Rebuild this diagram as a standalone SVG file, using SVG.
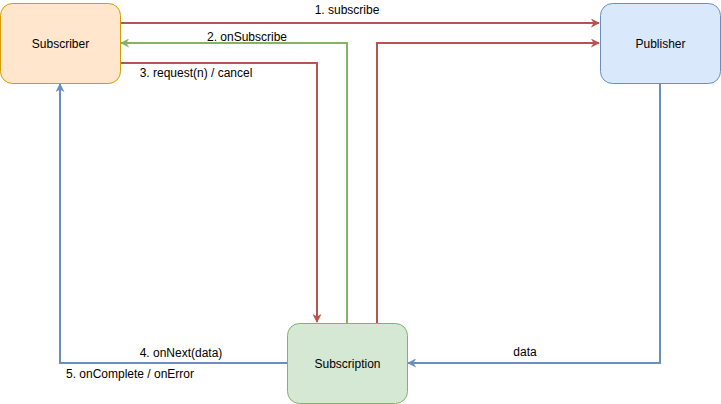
<svg xmlns="http://www.w3.org/2000/svg" width="721" height="404" viewBox="0 0 721 404">
<style>
.node text{font-family:"Liberation Sans",Arial,sans-serif;font-size:12px;fill:#000;text-anchor:middle;dominant-baseline:central}
.lbl{font-family:"Liberation Sans",Arial,sans-serif;font-size:12px;fill:#000;text-anchor:middle}
.e{fill:none;stroke-width:2}
.red{stroke:#b85450}.green{stroke:#82b366}.blue{stroke:#6c8ebf}
</style>
<defs>
<marker id="ar" viewBox="0 0 10 10" refX="9" refY="5" markerWidth="9" markerHeight="9" markerUnits="userSpaceOnUse" orient="auto"><path d="M0,0 L10,5 L0,10 L3,5 Z" fill="#b85450"/></marker>
<marker id="ag" viewBox="0 0 10 10" refX="9" refY="5" markerWidth="9" markerHeight="9" orient="auto" markerUnits="userSpaceOnUse"><path d="M0,0 L10,5 L0,10 L3,5 Z" fill="#82b366"/></marker>
<marker id="ab" viewBox="0 0 10 10" refX="9" refY="5" markerWidth="9" markerHeight="9" orient="auto" markerUnits="userSpaceOnUse"><path d="M0,0 L10,5 L0,10 L3,5 Z" fill="#6c8ebf"/></marker>
</defs>
<g id="connectors">
<path class="e red" d="M120,23 H599" marker-end="url(#ar)"/>
<path class="e green" d="M347,323 V43 H121" marker-end="url(#ag)"/>
<path class="e red" d="M120,63 H317 V322" marker-end="url(#ar)"/>
<path class="e red" d="M377,323 V43 H599" marker-end="url(#ar)"/>
<path class="e blue" d="M660,83 V363 H408" marker-end="url(#ab)"/>
<path class="e blue" d="M287,363 H60 V84" marker-end="url(#ab)"/>
<text class="lbl" x="347" y="14">1. subscribe</text>
<text class="lbl" x="247" y="41">2. onSubscribe</text>
<text class="lbl" x="196" y="77">3. request(n) / cancel</text>
<text class="lbl" x="181" y="357">4. onNext(data)</text>
<text class="lbl" x="130" y="378">5. onComplete / onError</text>
<text class="lbl" x="525" y="356">data</text>
</g>
<g id="subscriber" class="node"><rect x="0.5" y="3.5" width="120" height="80" rx="12" fill="#ffe6cc" stroke="#d79b00"/><text x="60.5" y="43.5">Subscriber</text></g>
<g id="publisher" class="node"><rect x="600.5" y="3.5" width="120" height="80" rx="12" fill="#dae8fc" stroke="#6c8ebf"/><text x="660.5" y="43.5">Publisher</text></g>
<g id="subscription" class="node"><rect x="287.5" y="323.5" width="120" height="80" rx="12" fill="#d5e8d4" stroke="#82b366"/><text x="347.5" y="363.5">Subscription</text></g>
</svg>
